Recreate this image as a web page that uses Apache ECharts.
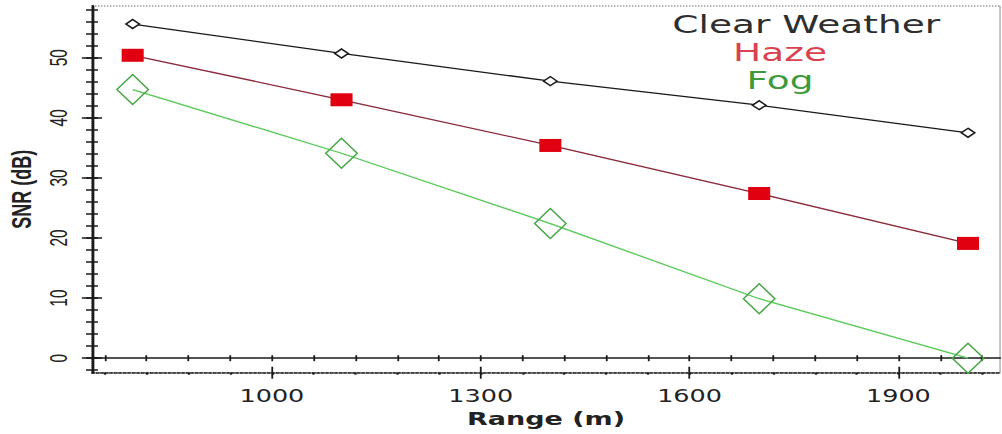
<!DOCTYPE html>
<html>
<head>
<meta charset="utf-8">
<script src="https://cdn.jsdelivr.net/npm/echarts@6/dist/echarts.min.js"></script>
<style>
html,body{margin:0;padding:0;background:#fff;overflow:hidden;}
#chart{width:668px;height:434px;transform:scaleX(1.5);transform-origin:0 0;}
</style>
</head>
<body>
<div id="chart"></div>
<script>
// ---- data ----
var rangeValues = [800, 1100, 1400, 1700, 2000];
var clearWeather = [55.6, 50.7, 46.1, 42.1, 37.5];
var haze = [50.4, 43.0, 35.4, 27.4, 19.1];
var fog = [44.7, 34.1, 22.4, 9.9, 0.0];
var seriesNames = ['Clear Weather', 'Haze', 'Fog'];

var xTickLabels = [1000, 1300, 1600, 1900];
var xMinorTicks = [760, 820, 880, 940, 1000, 1060, 1120, 1180, 1240, 1300, 1360, 1420, 1480, 1540, 1600, 1660, 1720, 1780, 1840, 1900, 1960, 2020];
var yTickLabels = [0, 10, 20, 30, 40, 50];
var yMinorTicks = [-2, 0, 2, 4, 6, 8, 10, 12, 14, 16, 18, 20, 22, 24, 26, 28, 30, 32, 34, 36, 38, 40, 42, 44, 46, 48, 50, 52, 54, 56, 58];

var X_MIN = 741.5, X_MAX = 2046;
var Y_MIN = -2.41, Y_MAX = 58.6;

function pairs(ys) { return rangeValues.map(function (x, i) { return [x, ys[i]]; }); }
function plain(v) { return String(v); }

var AX = '#1a1a1a';
function xAx(extra) {
  var base = {
    type: 'value', min: X_MIN, max: X_MAX, position: 'bottom',
    axisLine: { show: false, onZero: false },
    axisTick: { show: false },
    axisLabel: { show: false },
    splitLine: { show: false }
  };
  return Object.assign(base, extra);
}
function yAx(extra) {
  var base = {
    type: 'value', min: Y_MIN, max: Y_MAX, position: 'left',
    axisLine: { show: false, onZero: false },
    axisTick: { show: false },
    axisLabel: { show: false },
    splitLine: { show: false }
  };
  return Object.assign(base, extra);
}

var chart = echarts.init(document.getElementById('chart'), null, { renderer: 'svg' });
chart.setOption({
  animation: false,
  backgroundColor: '#fff',
  grid: {
    left: 61.3, right: 1.3, top: 6, bottom: 61.3,
    show: true, borderColor: '#666', borderWidth: 1, borderType: 'dotted',
    outerBoundsMode: 'none'
  },
  xAxis: [
    xAx({
      axisLine: { show: true, onZero: false, lineStyle: { color: AX, width: 1.5, type: 'dotted' } },
      axisTick: { show: true, customValues: xMinorTicks, length: 2, lineStyle: { color: AX, width: 1.5 } },
      axisLabel: { show: true, customValues: xTickLabels, formatter: plain, margin: 15, color: '#222', fontSize: 17, fontFamily: 'DejaVu Sans' },
      name: 'Range (m)', nameLocation: 'middle', nameGap: 34,
      nameTextStyle: { color: '#222', fontSize: 18, fontWeight: 'bold', fontFamily: 'DejaVu Sans' }
    }),
    xAx({ axisTick: { show: true, customValues: xTickLabels, length: 6, inside: false, lineStyle: { color: AX, width: 1.2 } } }),
    xAx({ axisTick: { show: true, customValues: xTickLabels, length: 6, inside: true, lineStyle: { color: AX, width: 1.2 } } }),
    xAx({
      axisLine: { show: true, onZero: true, lineStyle: { color: AX, width: 1.5 } },
      axisTick: { show: true, customValues: xMinorTicks, length: 3, inside: false, lineStyle: { color: AX, width: 1.2 } }
    }),
    xAx({
      axisLine: { show: false, onZero: true },
      axisTick: { show: true, customValues: xMinorTicks, length: 3, inside: true, lineStyle: { color: AX, width: 1.2 } }
    })
  ],
  yAxis: [
    yAx({
      axisLine: { show: true, onZero: false, lineStyle: { color: AX, width: 1.8 } },
      axisTick: { show: true, customValues: yTickLabels, length: 6.7, inside: false, lineStyle: { color: AX, width: 1.5 } },
      axisLabel: { show: true, customValues: yTickLabels, formatter: plain, rotate: 90, margin: 14, color: '#222', fontSize: 15.5, fontFamily: 'Liberation Sans' },
      name: 'SNR (dB)', nameLocation: 'middle', nameGap: 38, nameRotate: 90,
      nameTextStyle: { color: '#222', fontSize: 18, fontWeight: 'bold', fontFamily: 'Liberation Sans' }
    }),
    yAx({ axisTick: { show: true, customValues: yTickLabels, length: 6.7, inside: true, lineStyle: { color: AX, width: 1.5 } } }),
    yAx({ axisTick: { show: true, customValues: yMinorTicks, length: 4, inside: false, lineStyle: { color: AX, width: 1.5 } } }),
    yAx({ axisTick: { show: true, customValues: yMinorTicks, length: 4, inside: true, lineStyle: { color: AX, width: 1.5 } } })
  ],
  series: [
    {
      name: seriesNames[0], type: 'line', data: pairs(clearWeather),
      symbol: 'diamond', symbolSize: [9, 9], showAllSymbol: true,
      lineStyle: { color: '#1a1a1a', width: 1.3 },
      itemStyle: { color: '#ffffff', borderColor: '#1a1a1a', borderWidth: 1.3 },
      z: 3
    },
    {
      name: seriesNames[1], type: 'line', data: pairs(haze),
      symbol: 'rect', symbolSize: [14.7, 13], showAllSymbol: true,
      lineStyle: { color: '#8a2c3c', width: 1.3 },
      itemStyle: { color: '#e0000f', borderColor: '#e0000f', borderWidth: 0 },
      z: 3
    },
    {
      name: seriesNames[2], type: 'line', data: pairs(fog),
      symbol: 'diamond', symbolSize: [21, 30], showAllSymbol: true,
      lineStyle: { color: '#5ccb5c', width: 1.3 },
      itemStyle: { color: 'rgba(255,255,255,0)', borderColor: '#46a646', borderWidth: 1.2 },
      z: 3
    }
  ],
  graphic: [
    { type: 'text', x: 537.5, y: 24, z: 10,
      style: { text: seriesNames[0], fill: '#2e2e2e', font: '25px "DejaVu Sans"', textAlign: 'center', textVerticalAlign: 'middle' } },
    { type: 'text', x: 520, y: 52, z: 10,
      style: { text: seriesNames[1], fill: '#d8434f', font: '25px "DejaVu Sans"', textAlign: 'center', textVerticalAlign: 'middle' } },
    { type: 'text', x: 520, y: 80, z: 10,
      style: { text: seriesNames[2], fill: '#3d9a3d', font: '25px "DejaVu Sans"', textAlign: 'center', textVerticalAlign: 'middle' } }
  ]
});
</script>
</body>
</html>
